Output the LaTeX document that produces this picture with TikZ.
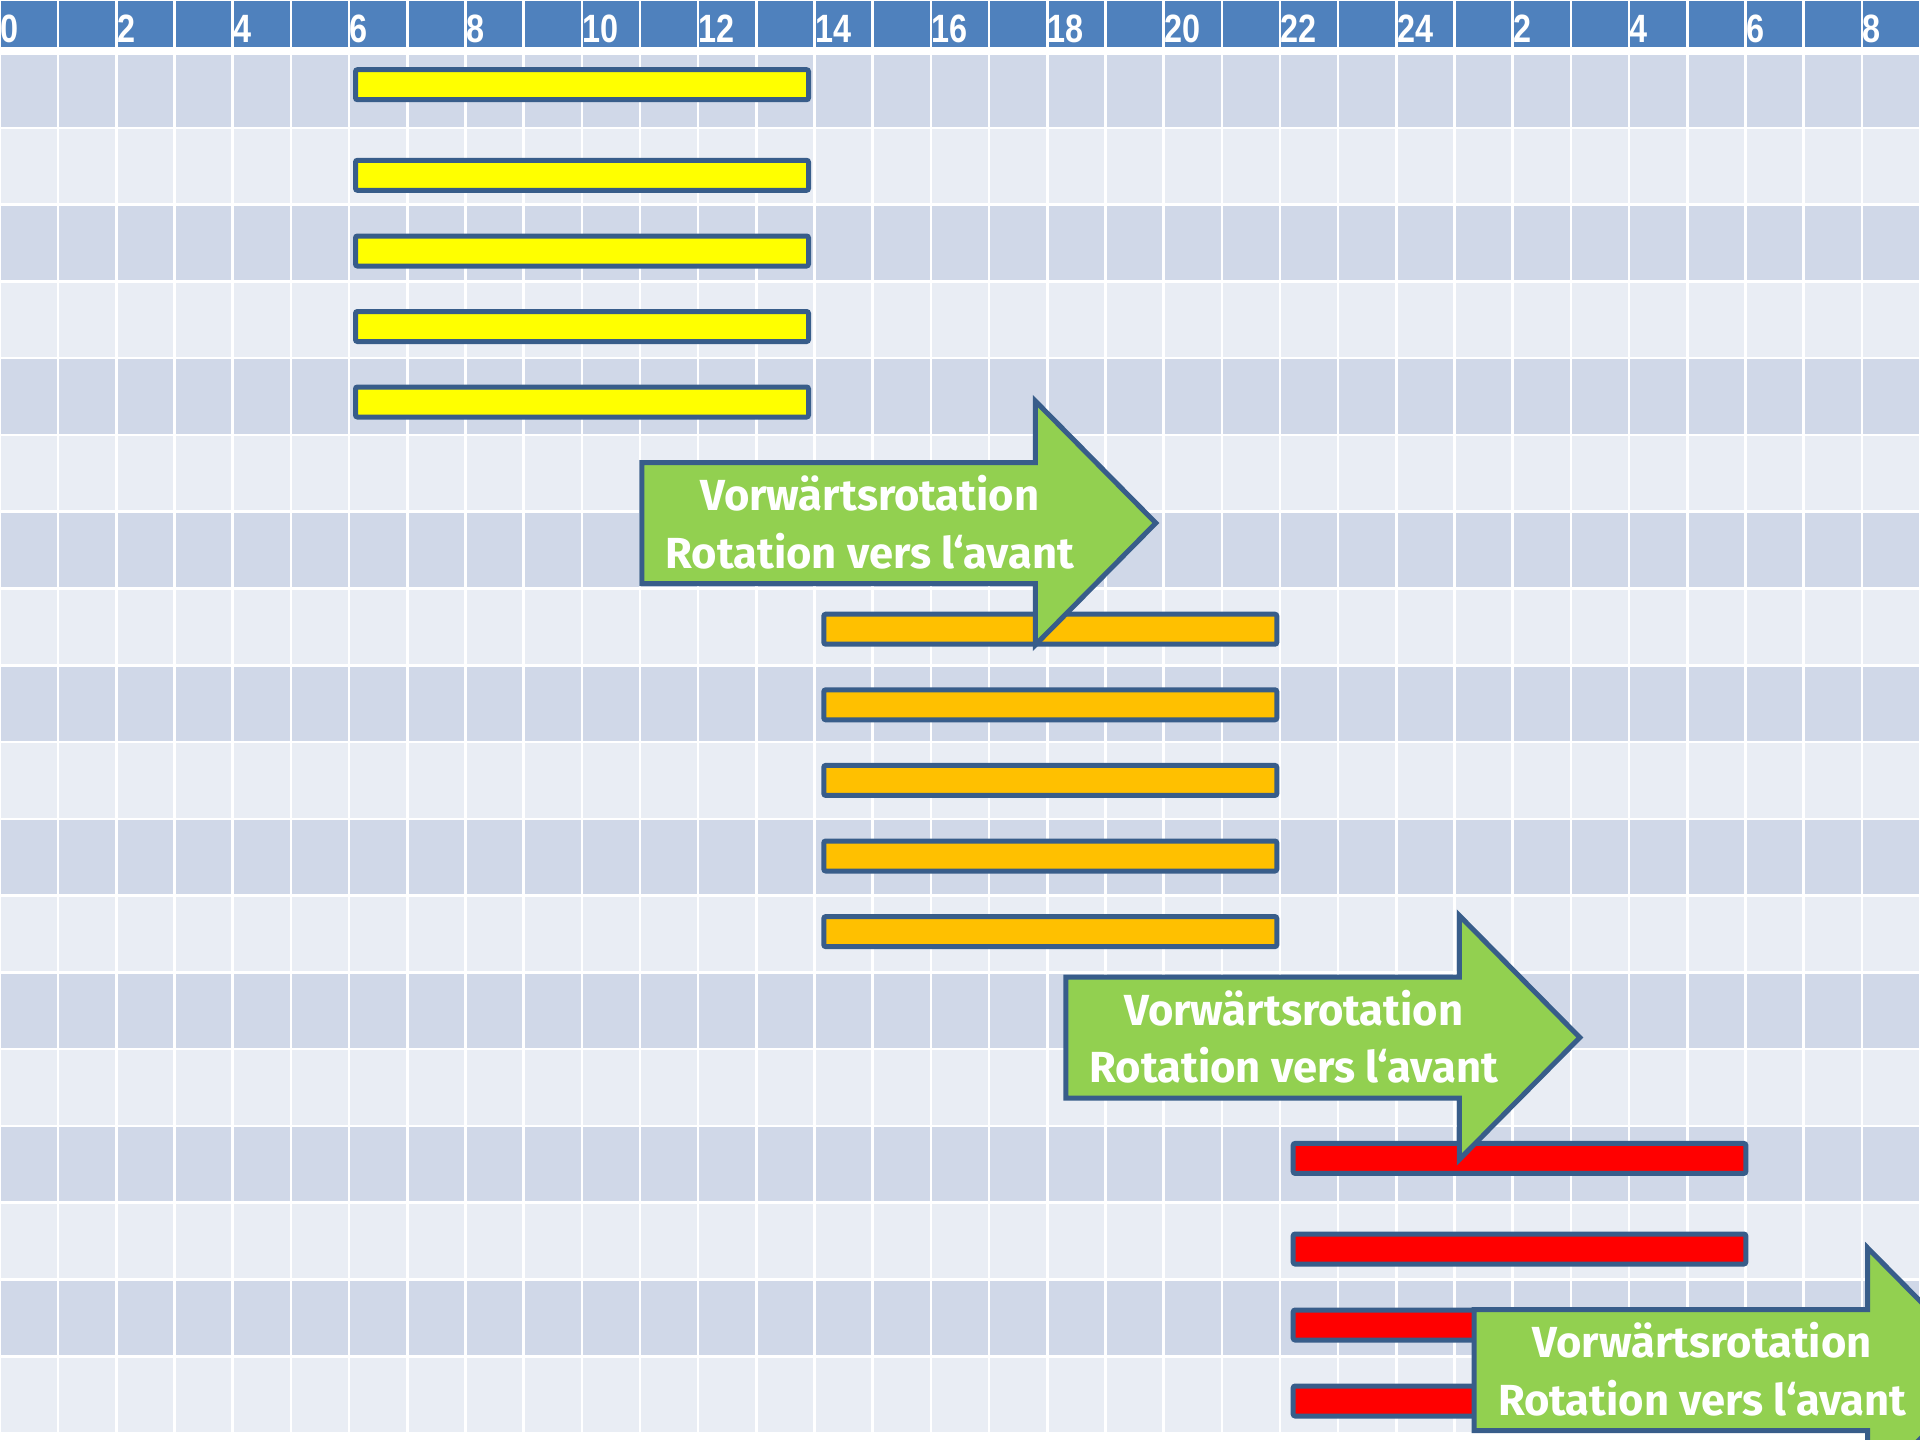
\documentclass[tikz,border=0pt]{standalone}
\usepackage{fontspec}
\setmainfont{Fira Sans}
\newfontfamily\hdrfont[FakeStretch=0.82]{Liberation Sans}
\definecolor{hdrblue}{HTML}{4F81BD}
\definecolor{rowdark}{HTML}{D0D8E8}
\definecolor{rowlight}{HTML}{E9EDF4}
\definecolor{barline}{HTML}{385D8A}
\definecolor{baryellow}{HTML}{FFFF00}
\definecolor{barorange}{HTML}{FFC000}
\definecolor{barred}{HTML}{FF0000}
\definecolor{arrowgreen}{HTML}{92D050}
\begin{document}
\begin{tikzpicture}[x=1pt,y=-1pt,
  bar/.style={draw=barline, line width=5pt, rounded corners=2pt},
  arrowshape/.style={draw=barline, fill=arrowgreen, line width=5pt, line join=miter},
  arrowtext/.style={text=white, align=center, font=\bfseries\fontsize{43.5}{57.6}\selectfont, inner sep=0pt, anchor=base},
  hdrlabel/.style={text=white, font=\hdrfont\bfseries\fontsize{39.5}{40}\selectfont, inner sep=0pt, anchor=base west}]
\useasboundingbox (0,0) rectangle (1920,1440);
\clip (0,0) rectangle (1920,1440);
% background grid
\fill[white] (0,0) rectangle (1920,1440);
\fill[hdrblue] (0,1) rectangle (1920,46.7);
\fill[rowdark] (0,55) rectangle (1920,126.5);
\foreach \k in {1,...,17} {
  \ifodd\k \def\rc{rowlight}\else\def\rc{rowdark}\fi
  \fill[\rc] (0,127.8+76.78*\k-76.78+1.3) rectangle (1920,127.8+76.78*\k-1.3);
}
\foreach \j in {0,...,33} \draw[white, line width=2.6pt] (\j*58.1818,0) -- (\j*58.1818,1440);
% header labels
\foreach \j/\t in {0/0,2/2,4/4,6/6,8/8,10/10,12/12,14/14,16/16,18/18,20/20,22/22,24/24,26/2,28/4,30/6,32/8}
  \node[hdrlabel] (h\j) at (\j*58.1818+0.5,42.3) {\t};
% bars
\foreach \c in {84.7,175.3,251,326.5,402}
  \draw[bar, fill=baryellow] (355.5,\c-15) rectangle (808.5,\c+15);
\foreach \c in {629.2,704.8,780.4,856,931.6}
  \draw[bar, fill=barorange] (823.8,\c-15) rectangle (1276.8,\c+15);
\foreach \c in {1158.4,1249,1325,1401}
  \draw[bar, fill=barred] (1293.2,\c-15) rectangle (1745.8,\c+15);
% arrows
\foreach \L/\C/\n in {641.8/523/1, 1065.8/1037.5/2, 1474.2/1370/3} {
  \draw[arrowshape] (\L,\C-60.5) -- (\L+393.5,\C-60.5) -- (\L+393.5,\C-122) -- (\L+514,\C)
     -- (\L+393.5,\C+122) -- (\L+393.5,\C+60.5) -- (\L,\C+60.5) -- cycle;
  \node[arrowtext] (arrowtext\n) at (\L+228,\C+45.3) {Vorwärtsrotation\\Rotation vers l‘avant};
}
\end{tikzpicture}
\end{document}
